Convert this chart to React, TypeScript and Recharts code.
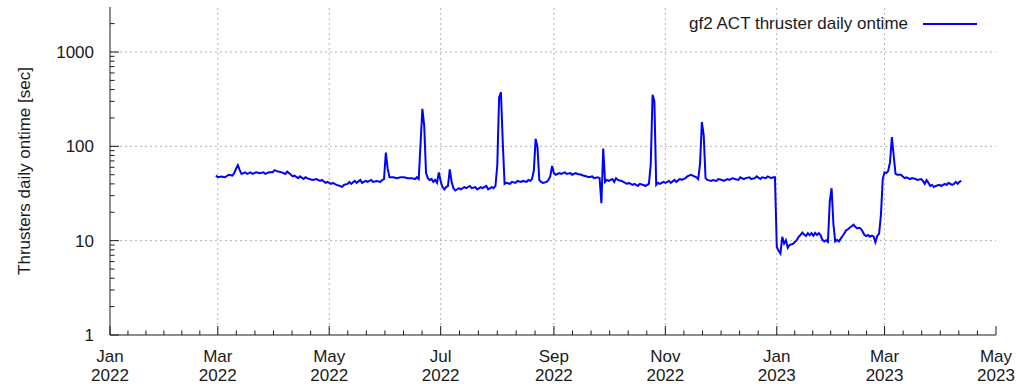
import React from 'react'
import { Line, LineChart, ReferenceLine, XAxis, YAxis } from 'recharts'

document.body.style.margin = '0'

// day offsets counted from 2022-01-01
const days = [
  58, 59, 61, 63, 65, 67, 68, 69, 70, 71, 72, 74, 75, 77, 78, 80, 82, 84, 85, 87,
  89, 90, 92, 94, 96, 97, 98, 100, 101, 103, 104, 106, 107, 109, 111, 113, 115, 116, 118, 119,
  121, 122, 124, 126, 127, 128, 130, 131, 132, 134, 135, 137, 138, 140, 141, 143, 144, 146, 148, 149,
  150, 151, 152, 153, 155, 157, 159, 161, 163, 165, 167, 168, 169,
  170, 171, 172, 173, 174, 175, 176, 177, 178, 179, 180, 181, 182, 183, 184, 185, 186, 187, 188, 189,
  191, 192, 194, 195, 197, 198, 200, 201, 203, 204, 206, 207, 209, 210, 211, 212, 213, 214, 215, 216,
  217, 219, 220, 222, 223, 225, 226, 228, 229, 230, 231, 232, 233, 234, 235, 236, 237, 239, 240, 241,
  242, 243, 244, 246, 247, 249, 250, 252, 253, 255, 256, 258, 259, 261, 262, 264, 265, 267, 268, 269,
  270, 271, 272, 273, 275, 276, 277, 278, 280, 281, 283, 284, 286, 287, 289, 290, 292, 293, 295, 296,
  297, 298, 299, 300, 301, 303, 304, 306, 307, 309, 310, 312, 313, 315, 316, 318, 319, 321, 322, 323,
  324, 325, 326, 327, 329, 330, 332, 333, 335, 336, 338, 339, 341, 342, 344, 345, 347, 348, 350, 351,
  353, 354, 356, 357, 359, 360, 362, 363, 364,
  365, 366, 367, 368, 369, 370, 371, 372, 374, 376, 377, 378, 379, 380, 381, 382, 383, 384, 385, 386,
  387, 388, 389, 390, 391, 392, 393, 394, 395, 396, 397, 398, 399, 400, 401, 402, 403, 404, 405, 406,
  407, 408, 409, 410, 411, 412, 413, 414, 415, 416, 417, 418, 419, 420, 421, 422, 423, 424, 425, 426,
  427, 428, 429, 430, 431, 433, 434, 435, 436, 438, 439, 441, 442, 444, 445, 446, 447, 448, 449, 450,
  451, 452, 454, 455, 457, 458, 459, 461, 462, 463, 464, 465, 466,
]

const ontime = [
  49, 47, 48, 47, 50, 49, 52, 58, 63, 56, 51, 53, 51, 53, 51, 53, 52, 53, 51, 53,
  53, 56, 54, 53, 51, 54, 52, 48, 49, 46, 48, 45, 47, 45, 44, 45, 43, 44, 41, 42,
  40, 41, 39, 38, 37, 39, 40, 42, 40, 43, 41, 44, 41, 43, 42, 44, 42, 43, 42, 44,
  45, 86, 58, 47, 47, 46, 47, 47, 46, 46, 45, 47, 45,
  107, 250, 165, 52, 46, 44, 45, 42, 44, 41, 53, 43, 37, 35, 37, 38, 57, 42, 36, 34,
  36, 35, 37, 36, 38, 36, 37, 35, 37, 36, 38, 35, 37, 36, 38, 63, 330, 375, 110, 40,
  41, 40, 42, 41, 43, 42, 43, 42, 44, 43, 45, 55, 120, 98, 44, 42, 41, 42, 44, 48,
  62, 52, 50, 52, 51, 53, 51, 52, 50, 52, 51, 50, 49, 48, 47, 48, 46, 47, 46, 25,
  95, 42, 44, 43, 45, 42, 46, 44, 43, 42, 40, 41, 39, 40, 38, 40, 39, 38, 40, 64,
  352, 300, 39, 41, 40, 42, 41, 43, 41, 44, 42, 45, 44, 46, 48, 50, 49, 47, 45, 66,
  181, 131, 46, 44, 43, 44, 43, 45, 44, 43, 45, 44, 46, 45, 44, 47, 45, 46, 47, 45,
  46, 48, 45, 47, 46, 48, 46, 47, 47,
  8.6, 7.8, 7.3, 11, 9.3, 10.1, 8.4, 9, 9.3, 10.2, 11, 11.5, 12.2, 11.6, 11.2, 12, 11.4, 12, 11.3, 12.1,
  11.5, 12, 11.4, 10.2, 9.8, 10.1, 9.7, 26, 36, 15, 9.8, 10.2, 9.8, 10.5, 11.2, 12, 12.9, 13.2, 13.8, 14.2,
  14.8, 14, 13.5, 13.7, 13.4, 12.5, 11.5, 11.2, 11.5, 11, 11.3, 11.1, 9.6, 11.2, 11.9, 18.6, 45, 53, 52, 55,
  68, 125, 80, 51, 50, 50, 48, 46, 47, 45, 46, 45, 44, 45, 43, 40, 44, 41, 38, 39,
  37, 38, 39, 38, 40, 39, 41, 39, 40, 42, 40, 42, 43,
]

const monthTicks = [0, 59, 120, 181, 243, 304, 365, 424, 485]
const monthNames = ['Jan', 'Mar', 'May', 'Jul', 'Sep', 'Nov', 'Jan', 'Mar', 'May']
const yearNames = ['2022', '2022', '2022', '2022', '2022', '2022', '2023', '2023', '2023']
const decadeTicks = [1, 10, 100, 1000]

const data = days.map((d, i) => ({ day: d, ontime: ontime[i] }))

// 5 minor ticks between each pair of month labels
const minorDays: number[] = []
for (let i = 0; i < monthTicks.length - 1; i++) {
  const step = (monthTicks[i + 1] - monthTicks[i]) / 6
  for (let k = 1; k < 6; k++) minorDays.push(monthTicks[i] + k * step)
}
const xTicks = [...monthTicks, ...minorDays].sort((a, b) => a - b)

const minorValues: number[] = []
decadeTicks.forEach((d) => {
  for (let k = 2; k <= 9; k++) if (d * k < 3000) minorValues.push(d * k)
})
const yTicks = [...decadeTicks, ...minorValues].sort((a, b) => a - b)

const FONT = '"Liberation Sans", Arial, sans-serif'
const INK = '#1a1a1a'
const GRID = '#b4b4b4'
const FS = 17

const BottomTick = (props: any) => {
  const { x, y, payload } = props
  const i = monthTicks.indexOf(payload.value)
  const major = i >= 0
  return (
    <g>
      <line x1={x} x2={x} y1={y} y2={y - (major ? 9 : 4.5)} stroke={INK} />
      {major && (
        <text x={x} y={y} textAnchor="middle" fill={INK} fontSize={FS} fontFamily={FONT}>
          <tspan x={x} dy={26.5}>{monthNames[i]}</tspan>
          <tspan x={x} dy={19}>{yearNames[i]}</tspan>
        </text>
      )}
    </g>
  )
}

const TopTick = (props: any) => {
  const { x, y, payload } = props
  const major = monthTicks.includes(payload.value)
  return <line x1={x} x2={x} y1={y} y2={y + (major ? 9 : 4.5)} stroke={INK} />
}

const LeftTick = (props: any) => {
  const { x, y, payload } = props
  const major = decadeTicks.includes(payload.value)
  return (
    <g>
      <line x1={x} x2={x + (major ? 9 : 4.5)} y1={y} y2={y} stroke={INK} />
      {major && (
        <text x={x - 16} y={y} dy="0.35em" textAnchor="end" fill={INK} fontSize={FS} fontFamily={FONT}>
          {payload.value}
        </text>
      )}
    </g>
  )
}

const RightTick = (props: any) => {
  const { x, y, payload } = props
  const major = decadeTicks.includes(payload.value)
  return <line x1={x} x2={x - (major ? 9 : 4.5)} y1={y} y2={y} stroke={INK} />
}

const YTitle = (props: any) => {
  const { viewBox } = props
  const cy = viewBox.y + viewBox.height / 2
  return (
    <text
      x={24}
      y={cy}
      transform={`rotate(-90, 24, ${cy})`}
      textAnchor="middle"
      dominantBaseline="central"
      fill={INK}
      fontSize={FS}
      fontFamily={FONT}
    >
      Thrusters daily ontime [sec]
    </text>
  )
}

export default function App() {
  return (
    <div style={{ position: 'relative', width: 1017, height: 384, background: '#fff' }}>
      <LineChart width={1017} height={384} data={data} margin={{ top: 7, right: 21, bottom: 0, left: 0 }}>
        <XAxis
          dataKey="day"
          type="number"
          domain={[0, 485]}
          ticks={xTicks}
          interval={0}
          allowDataOverflow
          height={49}
          tickSize={0}
          tickMargin={0}
          tickLine={false}
          axisLine={{ stroke: INK }}
          tick={BottomTick}
        />
        <XAxis
          xAxisId="top"
          orientation="top"
          type="number"
          domain={[0, 485]}
          ticks={xTicks}
          interval={0}
          allowDataOverflow
          height={0}
          tickSize={0}
          tickMargin={0}
          tickLine={false}
          axisLine={{ stroke: INK }}
          tick={TopTick}
        />
        <YAxis
          scale="log"
          type="number"
          domain={[1, 3000]}
          ticks={yTicks}
          interval={0}
          allowDataOverflow
          width={110}
          tickSize={0}
          tickMargin={0}
          tickLine={false}
          axisLine={{ stroke: INK }}
          tick={LeftTick}
          label={<YTitle />}
        />
        <YAxis
          yAxisId="right"
          orientation="right"
          scale="log"
          type="number"
          domain={[1, 3000]}
          ticks={yTicks}
          interval={0}
          allowDataOverflow
          width={0}
          tickSize={0}
          tickMargin={0}
          tickLine={false}
          axisLine={{ stroke: INK }}
          tick={RightTick}
        />
        {decadeTicks.slice(1).map((v) => (
          <ReferenceLine key={`h${v}`} y={v} stroke={GRID} strokeDasharray="2 3" />
        ))}
        {monthTicks.slice(1, -1).map((d) => (
          <ReferenceLine key={`v${d}`} x={d} stroke={GRID} strokeDasharray="2 3" />
        ))}
        <Line
          type="linear"
          dataKey="ontime"
          stroke="#0000ff"
          strokeWidth={2}
          dot={false}
          isAnimationActive={false}
        />
      </LineChart>
      <div
        style={{
          position: 'absolute',
          top: 14,
          right: 40,
          display: 'flex',
          alignItems: 'center',
          fontFamily: FONT,
          fontSize: FS,
          color: INK,
          lineHeight: '20px',
        }}
      >
        <span>gf2 ACT thruster daily ontime</span>
        <svg width={54} height={4} style={{ marginLeft: 15 }}>
          <line x1={0} x2={54} y1={2} y2={2} stroke="#0000ff" strokeWidth={2} />
        </svg>
      </div>
    </div>
  )
}
